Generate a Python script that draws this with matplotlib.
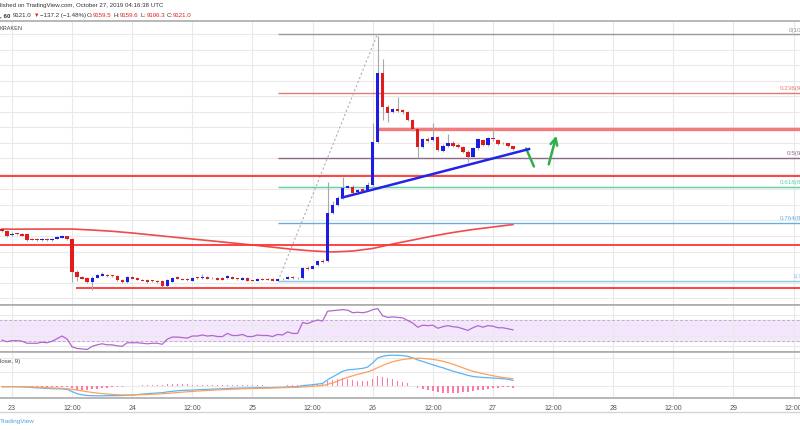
import matplotlib
matplotlib.use("Agg")
import matplotlib.pyplot as plt
from matplotlib.lines import Line2D
import numpy as np

# hourly candles, hour 0 = Oct 23 00:00 UTC (Kraken BTC/USD, 60 min)
hours = list(range(-2, 101))
opens = [8090, 8064, 8009, 8028, 8026, 8026, 7956, 7957, 7945, 7961, 7945, 7961, 7978, 8000,
         7965, 7536, 7471, 7459, 7407, 7462, 7488, 7501, 7485, 7481, 7433, 7407, 7468, 7462,
         7436, 7429, 7421, 7420, 7420, 7359, 7410, 7471, 7446, 7446, 7424, 7459, 7455, 7468,
         7455, 7459, 7459, 7455, 7475, 7450, 7436, 7455, 7424, 7424, 7446, 7446, 7446, 7424,
         7446, 7446, 7475, 7455, 7455, 7592, 7578, 7622, 7681, 7677, 8293, 8400, 8494, 8623,
         8636, 8564, 8602, 8594, 8658, 9217, 10099, 9668, 9596, 9635, 9626, 9604, 9497, 9377,
         9152, 9256, 9239, 9274, 9101, 9161, 9204, 9174, 9145, 9088, 9023, 9132, 9239, 9174,
         9261, 9239, 9204, 9196, 9159.5]
highs = [8103, 8077, 8052, 8039, 8039, 8032, 7968, 7968, 7968, 7974, 7974, 7994, 8013, 8006,
         7974, 7562, 7484, 7471, 7478, 7504, 7536, 7510, 7497, 7491, 7446, 7478, 7478, 7471,
         7446, 7439, 7433, 7433, 7426, 7439, 7465, 7484, 7459, 7452, 7465, 7471, 7506, 7478,
         7465, 7471, 7465, 7491, 7484, 7459, 7465, 7465, 7433, 7452, 7452, 7452, 7452, 7452,
         7459, 7484, 7484, 7465, 7594, 7607, 7626, 7690, 7697, 8701, 8452, 8516, 8765, 8658,
         8652, 8606, 8619, 8701, 9454, 10581, 10280, 9690, 9652, 9790, 9645, 9619, 9510, 9394,
         9265, 9271, 9462, 9290, 9181, 9316, 9226, 9194, 9161, 9110, 9148, 9265, 9252, 9277,
         9390, 9252, 9219, 9206, 9159.6]
lows = [8052, 7987, 8000, 8013, 8000, 7936, 7942, 7936, 7936, 7936, 7936, 7955, 7974, 7948,
        7407, 7420, 7439, 7393, 7303, 7452, 7484, 7471, 7471, 7420, 7400, 7393, 7439, 7426,
        7413, 7393, 7407, 7393, 7348, 7348, 7407, 7439, 7426, 7420, 7420, 7446, 7446, 7439,
        7446, 7426, 7426, 7446, 7439, 7433, 7433, 7413, 7413, 7420, 7426, 7426, 7413, 7413,
        7433, 7439, 7446, 7446, 7446, 7562, 7568, 7613, 7658, 7664, 8284, 8387, 8478, 8613,
        8548, 8548, 8574, 8581, 8645, 9206, 9497, 9475, 9581, 9600, 9574, 9484, 9361, 9010,
        9136, 9213, 9226, 9097, 9084, 9148, 9148, 9136, 9071, 8959, 9006, 9116, 9161, 9161,
        9232, 9174, 9187, 9148, 9106.3]
closes = [8064, 8000, 8030, 8026, 8006, 7945, 7954, 7945, 7957, 7948, 7965, 7983, 8000, 7961,
          7536, 7471, 7449, 7407, 7462, 7493, 7506, 7481, 7483, 7429, 7410, 7468, 7446, 7436,
          7424, 7403, 7419, 7403, 7359, 7429, 7455, 7446, 7436, 7429, 7455, 7458, 7468, 7446,
          7454, 7433, 7433, 7481, 7446, 7442, 7459, 7420, 7423, 7442, 7436, 7436, 7424, 7446,
          7439, 7475, 7455, 7454, 7584, 7571, 7617, 7677, 7668, 8293, 8400, 8486, 8623, 8645,
          8559, 8594, 8584, 8658, 9217, 10099, 9668, 9591, 9635, 9617, 9596, 9497, 9377, 9152,
          9248, 9230, 9274, 9110, 9161, 9196, 9165, 9152, 9088, 9023, 9132, 9248, 9174, 9261,
          9248, 9187, 9196, 9161, 9121.0]

# 100 SMA (read at a few hours)
ma_hours = [-2, 0, 4, 8, 12, 16, 20, 24, 28, 32, 36, 40, 44, 48, 52, 56, 60, 64, 68, 72,
            76, 80, 84, 88, 92, 96, 100]
ma_values = [8090, 8088, 8089, 8090, 8090, 8077, 8061, 8039, 8013, 7987, 7961, 7936, 7910,
             7884, 7856, 7828, 7807, 7794, 7806, 7839, 7897, 7948, 8000, 8045, 8084, 8116, 8148]

rsi = [31, 28, 30, 30, 29, 25, 25, 25, 27, 26, 29, 34, 39, 33, 18, 15, 14, 13, 19, 22, 24, 22,
       22, 20, 19, 26, 26, 26, 25, 24, 25, 25, 23, 33, 37, 37, 36, 35, 39, 39, 41, 39, 40, 38,
       38, 44, 40, 40, 42, 38, 38, 41, 40, 40, 38, 42, 41, 47, 44, 44, 65, 63, 67, 70, 68, 87,
       88, 89, 90, 89, 84, 85, 84, 86, 90, 92, 78, 75, 76, 75, 74, 69, 64, 56, 60, 59, 60, 54,
       57, 59, 57, 56, 53, 50, 55, 59, 56, 59, 58, 55, 55, 53, 51]

macd = [-5, -5, -5, -5, -6, -8, -11, -13, -15, -17, -19, -20, -21, -24, -40, -55, -63, -68,
        -69, -70, -70, -69, -69, -69, -68, -66, -64, -61, -58, -55, -52, -50, -48, -42, -38,
        -34, -31, -30, -29, -27, -25, -24, -22, -21, -20, -18, -16, -15, -14, -14, -13, -12,
        -12, -12, -11, -10, -9, -7, -6, -5, 3, 6, 9, 14, 18, 45, 65, 85, 105, 115, 118, 122,
        126, 135, 165, 200, 212, 218, 220, 219, 217, 212, 200, 186, 175, 163, 152, 140, 130,
        118, 106, 96, 86, 76, 68, 64, 61, 59, 57, 55, 52, 48, 40]
signal = [-5, -5, -5, -5, -5, -6, -7, -9, -10, -12, -14, -15, -17, -19, -23, -29, -35, -41,
          -46, -50, -54, -57, -60, -62, -64, -64, -64, -63, -62, -61, -59, -57, -55, -53, -50,
          -47, -44, -41, -39, -36, -34, -32, -30, -28, -26, -25, -23, -22, -20, -19, -18, -17,
          -16, -15, -14, -13, -12, -11, -10, -9, -7, -4, -2, 1, 4, 12, 22, 35, 50, 62, 73, 83,
          92, 101, 114, 131, 147, 161, 173, 182, 189, 194, 197, 198, 197, 194, 190, 184, 177,
          167, 156, 143, 130, 117, 105, 96, 88, 81, 73, 67, 61, 56, 52]

tick_hours = [0, 12, 24, 36, 48, 60, 72, 84, 96, 108, 120, 132, 144, 156]
tick_labels = ["23", "12:00", "24", "12:00", "25", "12:00", "26", "12:00", "27", "12:00",
               "28", "12:00", "29", "12:00"]

fib_high, fib_low = 10600, 7420
fib_levels = [0, 0.236, 0.5, 0.618, 0.764, 1]
fib_names = ["0", "0.236", "0.5", "0.618", "0.764", "1"]
fib_colors = ["#9a9a9a", "#e57878", "#8a6a85", "#5fd0a0", "#6aaee0", "#8cc4ea"]

plt.rcParams["font.family"] = ["Liberation Sans", "DejaVu Sans"]

W, H = 800, 430
X0, X1 = -2.395, 157.29


def rect(top, bottom):
    return [0, 1 - bottom / H, 1, (bottom - top) / H]


def style(a):
    for s in ("left", "right"):
        a.spines[s].set_visible(False)
    for s in ("top", "bottom"):
        a.spines[s].set_color("#ababab")
        a.spines[s].set_linewidth(1.2)
    a.set_xlim(X0, X1)
    a.set_xticks(tick_hours)
    a.tick_params(left=False, labelleft=False, bottom=False, labelbottom=False)
    a.grid(True, color="#e9e9e9", lw=0.8)
    a.set_axisbelow(True)


fig = plt.figure(figsize=(W / 100, H / 100), dpi=100)
ax = fig.add_axes(rect(21, 305))
ax_rsi = fig.add_axes(rect(305, 352))
ax_macd = fig.add_axes(rect(352, 398))
for a in (ax, ax_rsi, ax_macd):
    style(a)

# ---- main price panel
ax.set_ylim(7109.7, 10774.1)
ax.set_yticks(np.arange(7200, 10800, 200))

o = np.array(opens)
c = np.array(closes)
up = c >= o
body_colors = np.where(up, "#1c1ce6", "#e21b1b")
ax.vlines(hours, lows, highs, color="#a8a8a8", lw=0.8, zorder=3)
ax.bar(hours, np.maximum(np.abs(c - o), 10), bottom=np.minimum(o, c), width=0.66,
       color=body_colors, lw=0, zorder=4)

ax.plot(ma_hours, ma_values, color="#f04a4a", lw=1.2, zorder=2)

# fib retracement drawn from the Oct 25 low to the Oct 26 high
fib_start = 53.1
for lvl, name, col in zip(fib_levels, fib_names, fib_colors):
    price = fib_high - lvl * (fib_high - fib_low)
    ax.hlines(price, fib_start, X1 + 5, color=col, lw=1.0, zorder=2)
    ax.text(161.1, price + 25, f"{name}({price:.1f})", color=col, fontsize=4.5,
            ha="right", va="bottom", clip_on=False)
ax.plot([fib_start, 72.9], [fib_low, fib_high], color="#b0b0b0", lw=0.8,
        ls=(0, (2, 2)), zorder=2)

ax.hlines(9380, 73.05, X1 + 5, color="#f47b7b", lw=2.4, zorder=2)
ax.hlines([8778, 7884], X0 - 5, X1 + 5, color="#ff3434", lw=1.3, zorder=2)
ax.hlines(7329, 12.8, X1 + 5, color="#ff3434", lw=1.3, zorder=2)

ax.plot([65.9, 103.2], [8496, 9122], color="#2424e8", lw=1.8, zorder=5)

green = "#2fae4a"
ax.annotate("", xy=(102.4, 9161), xytext=(104.4, 8864),
            arrowprops=dict(arrowstyle="-", color=green, lw=1.8))
ax.annotate("", xy=(108.8, 9329), xytext=(107.0, 8890),
            arrowprops=dict(arrowstyle="->", color=green, lw=1.8, mutation_scale=12))

# ---- RSI panel
ax_rsi.set_ylim(8.1, 99)
ax_rsi.set_yticks([20, 40, 60, 80])
ax_rsi.axhspan(30, 70, color="#f4e7fd", zorder=0)
ax_rsi.hlines([30, 70], X0 - 5, X1 + 5, color="#c2aecb", lw=0.7, ls=(0, (3, 2)), zorder=1)
ax_rsi.plot(hours, rsi, color="#b266cf", lw=0.9, zorder=3)

# ---- MACD panel
ax_macd.set_ylim(-85.7, 242.8)
ax_macd.set_yticks([0, 100, 200])
hist = np.array(macd) - np.array(signal)
ax_macd.bar(hours, hist, width=0.28, color="#ff78a8", lw=0, zorder=2)
ax_macd.plot(hours, macd, color="#5ab4f5", lw=0.9, zorder=3)
ax_macd.plot(hours, signal, color="#ffa05c", lw=0.9, zorder=3)
ax_macd.text(0.0, 0.8, "lose, 9)", transform=ax_macd.transAxes, fontsize=4.4,
             color="#444444", va="center")
ax_macd.set_xticklabels(tick_labels)
ax_macd.tick_params(labelbottom=True, labelsize=5, labelcolor="#555555", pad=1.4)

# ---- header / footer
def ftext(x, y, s, **kw):
    kw.setdefault("fontsize", 4.4)
    kw.setdefault("color", "#333333")
    fig.text(x / W, 1 - y / H, s, va="center", ha="left", **kw)


ftext(0, 6, "lished on TradingView.com, October 27, 2019 04:16:38 UTC")
red = "#e0201e"
ftext(0, 15.5, ", 60", fontweight="bold")
ftext(13, 15.5, "9121.0")
ftext(33.5, 15.5, "\u25bc", color=red, fontsize=4)
ftext(39.5, 15.5, "\u2212137.2 (\u22121.48%)")
for x, lab, val in [(87, "O:", "9159.5"), (113.5, "H:", "9159.6"),
                    (140.5, "L:", "9106.3"), (166.5, "C:", "9121.0")]:
    ftext(x, 15.5, lab)
    ftext(x + 6, 15.5, val, color=red)
ftext(0, 29, "KRAKEN", fontsize=4, color="#444444")
ftext(0, 421, "TradingView", fontsize=4.6, color="#4aa8e0")

fig.add_artist(Line2D([0, 1], [1 - 411.7 / H] * 2, color="#d4d4d4", lw=1.0))

fig.savefig("out.png", dpi=100)
